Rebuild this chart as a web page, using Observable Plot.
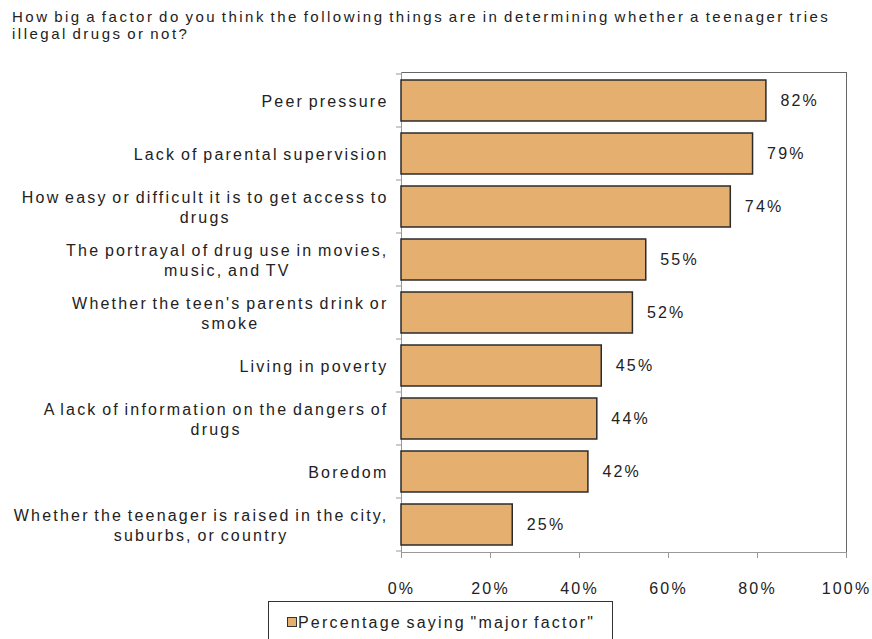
<!DOCTYPE html>
<html><head><meta charset="utf-8">
<script src="https://cdn.jsdelivr.net/npm/d3@7"></script>
<script src="https://cdn.jsdelivr.net/npm/@observablehq/plot@0.6"></script>
<style>
body{margin:0;background:#fff;font-family:"Liberation Sans",Arial,sans-serif;}
#wrap{position:relative;width:872px;height:639px;overflow:hidden;background:#fff;}
#title{position:absolute;left:12px;top:8px;font-size:15px;line-height:17px;letter-spacing:2.5px;word-spacing:-2px;color:#222;white-space:nowrap;}
#chart{position:absolute;left:0;top:44px;}
#legend{position:absolute;left:268px;top:601px;width:345px;height:60px;border:1px solid #333;box-sizing:border-box;font-size:16px;line-height:18px;letter-spacing:2.2px;word-spacing:-2px;color:#222;padding:12px 0 0 18px;white-space:nowrap;}
#legend .sw{display:inline-block;width:8px;height:8px;border:1px solid #333;margin-right:1px;vertical-align:1px;}
</style></head>
<body><div id="wrap"><div id="title"></div><div id="chart"></div><div id="legend"></div></div>
<script>
const titleLines = [
  "How big a factor do you think the following things are in determining whether a teenager tries",
  "illegal drugs or not?"
];
const categories = [
  "Peer pressure",
  "Lack of parental supervision",
  "How easy or difficult it is to get access to\ndrugs",
  "The portrayal of drug use in movies,\nmusic, and TV",
  "Whether the teen's parents drink or\nsmoke",
  "Living in poverty",
  "A lack of information on the dangers of\ndrugs",
  "Boredom",
  "Whether the teenager is raised in the city,\nsuburbs, or country"
];
const values = [82, 79, 74, 55, 52, 45, 44, 42, 25];
const xTicks = [0, 20, 40, 60, 80, 100];
const xTickLabels = ["0%", "20%", "40%", "60%", "80%", "100%"];
const seriesName = 'Percentage saying "major factor"';
const barColor = "#e5b06f";

const data = categories.map((c, i) => ({category: c, value: values[i]}));

document.getElementById("title").innerHTML = titleLines.map(t => t.replace(/&/g,"&amp;")).join("<br>");
const leg = document.getElementById("legend");
const sw = document.createElement("span");
sw.className = "sw"; sw.style.background = barColor;
leg.appendChild(sw);
leg.appendChild(document.createTextNode(seriesName));

function boundaryTicks(index, scales, values, dimensions) {
  const y = scales.y;
  const step = typeof y.step === "function" ? y.step() : scales.scales.y.step;
  const bw = typeof y.bandwidth === "function" ? y.bandwidth() : scales.scales.y.bandwidth;
  const ys = categories.map(c => y(c) - (step - bw) / 2);
  ys.push(ys[ys.length - 1] + step);
  const g = d3.create("svg:g").attr("stroke", "#999").attr("stroke-width", 1);
  for (const v of ys) {
    g.append("line")
      .attr("x1", dimensions.marginLeft - 5).attr("x2", dimensions.marginLeft)
      .attr("y1", v).attr("y2", v);
  }
  return g.node();
}

const plot = Plot.plot({
  width: 872,
  height: 556,
  marginLeft: 401,
  marginRight: 26,
  marginTop: 28,
  marginBottom: 48,
  style: {fontFamily: '"Liberation Sans", Arial, sans-serif', fontSize: "16px", color: "#222",
          letterSpacing: "2.2px", wordSpacing: "-2px", background: "#fff", overflow: "visible"},
  x: {domain: [0, 100]},
  y: {domain: categories, paddingInner: 0.23, paddingOuter: 0.115},
  marks: [
    Plot.frame({anchor: "top", stroke: "#666"}),
    Plot.frame({anchor: "right", stroke: "#666"}),
    Plot.frame({anchor: "left", stroke: "#999"}),
    Plot.frame({anchor: "bottom", stroke: "#999"}),
    Plot.barX(data, {x: "value", y: "category", fill: barColor, stroke: "#2b2b2b", strokeWidth: 1.5}),
    Plot.text(data, {x: "value", y: "category", text: d => d.value + "%", dx: 14, textAnchor: "start", fill: "#222"}),
    Plot.axisX({ticks: xTicks, tickFormat: (d, i) => xTickLabels[xTicks.indexOf(d)], tickSize: 6, tickPadding: 24, stroke: "#999", fill: "#222", label: null}),
    Plot.axisY({tickSize: 0, tickPadding: 13, label: null, fill: "#222", lineHeight: 1.25}),
    boundaryTicks
  ]
});
document.getElementById("chart").appendChild(plot);

// center multi-line category labels within their block
d3.select(plot).selectAll('g[aria-label="y-axis tick label"] text').each(function() {
  const tspans = this.querySelectorAll("tspan");
  if (tspans.length > 1) {
    const w = this.getBBox().width;
    this.setAttribute("text-anchor", "middle");
    tspans.forEach(t => t.setAttribute("x", -w / 2));
  }
});
</script>
</body></html>
